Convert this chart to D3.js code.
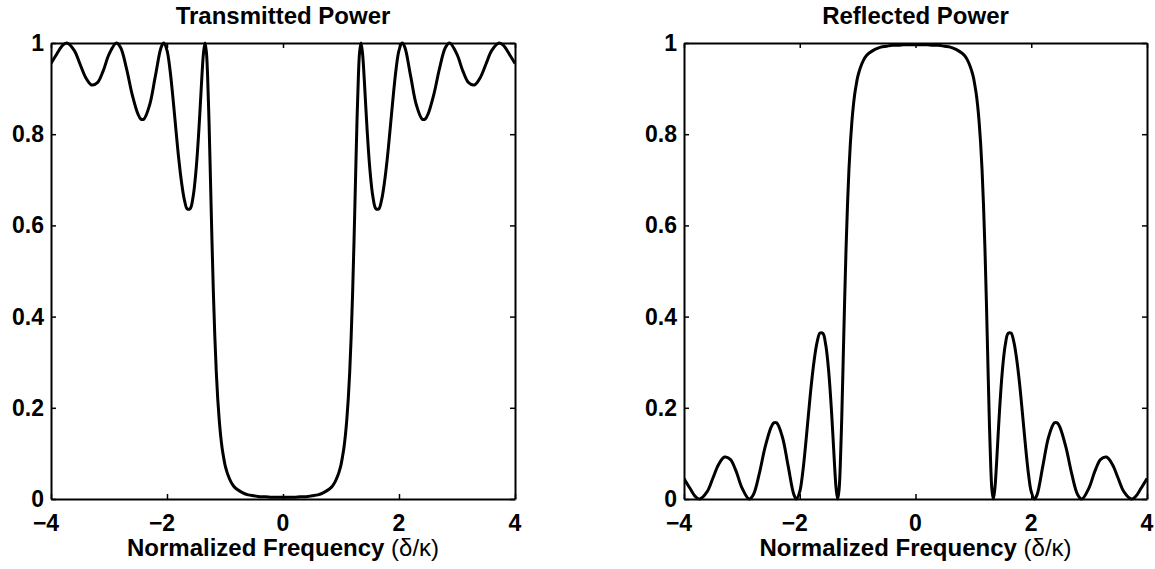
<!DOCTYPE html>
<html>
<head>
<meta charset="utf-8">
<script src="https://cdn.jsdelivr.net/npm/d3@7"></script>
<style>
  html, body { margin: 0; padding: 0; background: #fff; }
  svg { display: block; }
  text { font-family: "Liberation Sans", Arial, Helvetica, sans-serif; font-weight: bold; fill: #000; }
</style>
</head>
<body>
<svg id="chart" width="1155" height="569"></svg>
<script>
// ---- data ----
const freq = [-4.0,-3.9,-3.8,-3.727,-3.6,-3.5,-3.4,-3.3,-3.2,-3.1,-3.0,-2.873,-2.8,-2.7,-2.6,-2.5,-2.45,-2.4,-2.3,-2.2,-2.1,-2.055,-2.0,-1.95,-1.9,-1.85,-1.8,-1.75,-1.7,-1.65,-1.6,-1.55,-1.5,-1.45,-1.4,-1.37,-1.344,-1.32,-1.3,-1.275,-1.25,-1.225,-1.2,-1.175,-1.15,-1.125,-1.1,-1.075,-1.05,-1.025,-1.0,-0.975,-0.95,-0.9,-0.85,-0.8,-0.7,-0.6,-0.5,-0.4,-0.3,-0.2,-0.1,
  0,
  0.1,0.2,0.3,0.4,0.5,0.6,0.7,0.8,0.85,0.9,0.95,0.975,1.0,1.025,1.05,1.075,1.1,1.125,1.15,1.175,1.2,1.225,1.25,1.275,1.3,1.32,1.344,1.37,1.4,1.45,1.5,1.55,1.6,1.65,1.7,1.75,1.8,1.85,1.9,1.95,2.0,2.055,2.1,2.2,2.3,2.4,2.45,2.5,2.6,2.7,2.8,2.873,3.0,3.1,3.2,3.3,3.4,3.5,3.6,3.727,3.8,3.9,4.0];

const transmitted = [0.955,0.976,0.995,1,0.984,0.954,0.924,0.908,0.913,0.939,0.975,1,0.990,0.945,0.887,0.844,0.833,0.833,0.864,0.928,0.991,1,0.984,0.943,0.883,0.815,0.749,0.695,0.656,0.636,0.637,0.663,0.720,0.810,0.923,0.979,1,0.979,0.928,0.825,0.698,0.568,0.451,0.355,0.278,0.219,0.174,0.139,0.112,0.092,0.075,0.063,0.053,0.038,0.028,0.022,0.014,0.009,0.007,0.005,0.005,0.004,0.004,
  0.004,
  0.004,0.004,0.005,0.005,0.007,0.009,0.014,0.022,0.028,0.038,0.053,0.063,0.075,0.092,0.112,0.139,0.174,0.219,0.278,0.355,0.451,0.568,0.698,0.825,0.928,0.979,1,0.979,0.923,0.810,0.720,0.663,0.637,0.636,0.656,0.695,0.749,0.815,0.883,0.943,0.984,1,0.991,0.928,0.864,0.833,0.833,0.844,0.887,0.945,0.990,1,0.975,0.939,0.913,0.908,0.924,0.954,0.984,1,0.995,0.976,0.955];

const reflected = [0.045,0.024,0.005,0,0.016,0.046,0.076,0.092,0.087,0.061,0.025,0,0.010,0.055,0.113,0.156,0.167,0.167,0.136,0.072,0.009,0,0.016,0.057,0.117,0.185,0.251,0.305,0.344,0.364,0.363,0.337,0.280,0.190,0.077,0.021,0,0.021,0.072,0.175,0.302,0.432,0.549,0.645,0.722,0.781,0.826,0.861,0.888,0.908,0.925,0.937,0.947,0.962,0.972,0.978,0.986,0.991,0.993,0.995,0.995,0.996,0.996,
  0.996,
  0.996,0.996,0.995,0.995,0.993,0.991,0.986,0.978,0.972,0.962,0.947,0.937,0.925,0.908,0.888,0.861,0.826,0.781,0.722,0.645,0.549,0.432,0.302,0.175,0.072,0.021,0,0.021,0.077,0.190,0.280,0.337,0.363,0.364,0.344,0.305,0.251,0.185,0.117,0.057,0.016,0,0.009,0.072,0.136,0.167,0.167,0.156,0.113,0.055,0.010,0,0.025,0.061,0.087,0.092,0.076,0.046,0.016,0,0.005,0.024,0.045];

const xTicks = [-4, -2, 0, 2, 4];
const xTickLabels = ["\u22124", "\u22122", "0", "2", "4"];
const yTicks = [0, 0.2, 0.4, 0.6, 0.8, 1];
const yTickLabels = ["0", "0.2", "0.4", "0.6", "0.8", "1"];
const titles = ["Transmitted Power", "Reflected Power"];
const xLabelMain = "Normalized Frequency ";
const xLabelSym = "(\u03B4/\u03BA)";

// ---- layout ----
const svg = d3.select("#chart");
const panels = [
  { left: 51, right: 515, values: transmitted, title: titles[0] },
  { left: 684, right: 1147, values: reflected, title: titles[1] }
];
const plotTop = 43, plotBottom = 499, tickLen = 5;

panels.forEach((p, i) => {
  const x = d3.scaleLinear().domain([-4, 4]).range([p.left, p.right]);
  const y = d3.scaleLinear().domain([0, 1]).range([plotBottom, plotTop]);
  const g = svg.append("g");

  const clipId = "clip" + i;
  svg.append("clipPath").attr("id", clipId)
    .append("rect").attr("x", p.left).attr("y", plotTop - 2)
    .attr("width", p.right - p.left).attr("height", plotBottom - plotTop + 4);

  // curve
  const pts = freq.map((f, k) => [f, p.values[k]]);
  const line = d3.line().x(d => x(d[0])).y(d => y(d[1])).curve(d3.curveCatmullRom.alpha(0.5));
  g.append("path").datum(pts)
    .attr("d", line)
    .attr("fill", "none").attr("stroke", "#000").attr("stroke-width", 3)
    .attr("stroke-linejoin", "round")
    .attr("clip-path", `url(#${clipId})`);

  // axes (box with inward ticks on all sides)
  const axB = d3.axisBottom(x).tickValues(xTicks).tickSizeInner(-tickLen).tickSizeOuter(0).tickFormat("");
  const axT = d3.axisTop(x).tickValues(xTicks).tickSizeInner(-tickLen).tickSizeOuter(0).tickFormat("");
  const axL = d3.axisLeft(y).tickValues(yTicks).tickSizeInner(-tickLen).tickSizeOuter(0).tickFormat("");
  const axR = d3.axisRight(y).tickValues(yTicks).tickSizeInner(-tickLen).tickSizeOuter(0).tickFormat("");
  [[axB, `translate(0,${plotBottom})`], [axT, `translate(0,${plotTop})`],
   [axL, `translate(${p.left},0)`], [axR, `translate(${p.right},0)`]].forEach(([ax, tr]) => {
    const a = g.append("g").attr("transform", tr).call(ax);
    a.selectAll("path.domain").attr("stroke", "#000").attr("stroke-width", 2);
    a.selectAll(".tick line").attr("stroke", "#000").attr("stroke-width", 1.5);
  });

  // x tick labels
  g.selectAll(".xl").data(xTicks).enter().append("text")
    .attr("x", d => x(d) + (d < 0 ? -5 : 0))
    .attr("y", 531)
    .attr("text-anchor", "middle")
    .attr("font-size", 23)
    .text((d, k) => xTickLabels[k]);

  // y tick labels
  g.selectAll(".yl").data(yTicks).enter().append("text")
    .attr("x", p.left - 7)
    .attr("y", d => y(d) + 8)
    .attr("text-anchor", "end")
    .attr("font-size", 23)
    .text((d, k) => yTickLabels[k]);

  // title
  g.append("text")
    .attr("x", (p.left + p.right) / 2).attr("y", 24)
    .attr("text-anchor", "middle").attr("font-size", 24)
    .text(p.title);

  // x label
  const xl = g.append("text")
    .attr("x", (p.left + p.right) / 2).attr("y", 556)
    .attr("text-anchor", "middle").attr("font-size", 24);
  xl.append("tspan").text(xLabelMain);
  xl.append("tspan").attr("font-weight", "normal").text(xLabelSym);
});
</script>
</body>
</html>
